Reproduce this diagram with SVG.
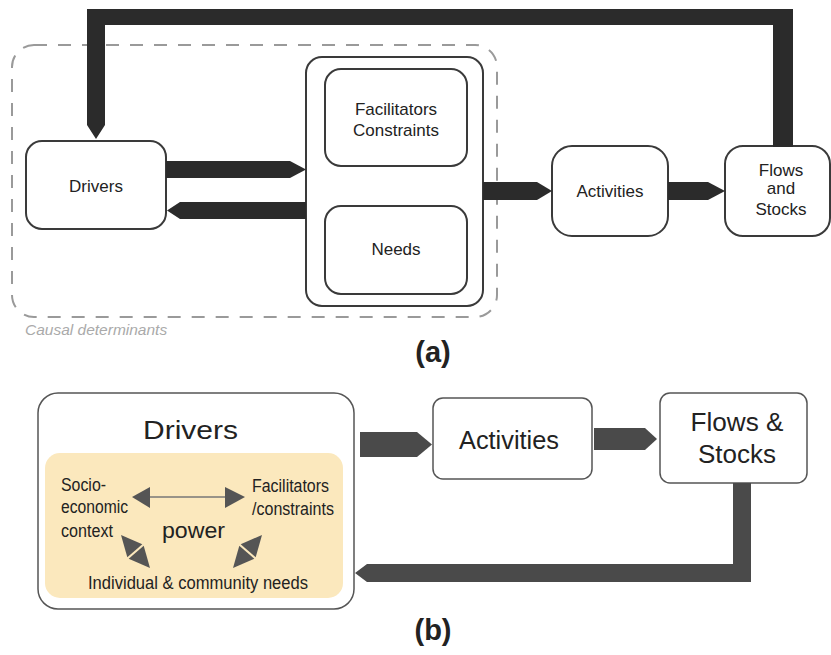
<svg xmlns="http://www.w3.org/2000/svg" width="831" height="655" viewBox="0 0 831 655">
<style>
text{font-family:"Liberation Sans",Arial,sans-serif;fill:#222}
.boxa{fill:#fff;stroke:#3a3a3a;stroke-width:2}
.boxb{fill:#fff;stroke:#555;stroke-width:1.5}
.conna{fill:#2b2b2b}
.connb{fill:#4a4a4a}
.ta{font-size:17px;text-anchor:middle}
.tb{font-size:25px;text-anchor:middle}
.ty{font-size:17.5px}
.tri{fill:#555}
</style>
<rect width="831" height="655" fill="#fff"/>
<g id="causal-determinants">
<rect x="12" y="45" width="485" height="272" rx="22" fill="none" stroke="#9a9a9a" stroke-width="2" stroke-dasharray="13 11"/>
<text x="25" y="335" font-size="15.5" font-style="italic" style="fill:#aaa">Causal determinants</text>
</g>
<g id="a-drivers"><rect class="boxa" x="26" y="141" width="140" height="88" rx="16"/><text class="ta" x="96" y="192">Drivers</text></g>
<g id="a-container"><rect class="boxa" x="306" y="57" width="177" height="249" rx="16"/></g>
<g id="a-facilitators"><rect class="boxa" x="325" y="69" width="142" height="97" rx="16"/><text class="ta" x="396" y="115">Facilitators</text><text class="ta" x="396" y="136">Constraints</text></g>
<g id="a-needs"><rect class="boxa" x="325" y="206" width="142" height="88" rx="16"/><text class="ta" x="396" y="255">Needs</text></g>
<g id="a-activities"><rect class="boxa" x="552" y="146" width="116" height="90" rx="20"/><text class="ta" x="610" y="197">Activities</text></g>
<g id="a-flows"><rect class="boxa" x="725" y="146" width="105" height="90" rx="18"/><text class="ta" x="781" y="176">Flows</text><text class="ta" x="781" y="194" font-size="14.5">and</text><text class="ta" x="781" y="215">Stocks</text></g>
<text x="433" y="362" font-size="29" font-weight="bold" text-anchor="middle">(a)</text>
<g id="b-drivers">
<rect class="boxb" x="38" y="393" width="316" height="216" rx="20"/>
<text x="143" y="439" font-size="26" textLength="95" lengthAdjust="spacingAndGlyphs">Drivers</text>
<rect x="45" y="453" width="298" height="145" rx="15" fill="#fbe8bd"/>
<text class="ty" x="61" y="491" textLength="45" lengthAdjust="spacingAndGlyphs">Socio-</text>
<text class="ty" x="61" y="513" textLength="67" lengthAdjust="spacingAndGlyphs">economic</text>
<text class="ty" x="61" y="537" textLength="52" lengthAdjust="spacingAndGlyphs">context</text>
<text class="ty" x="252" y="492" textLength="77" lengthAdjust="spacingAndGlyphs">Facilitators</text>
<text class="ty" x="252" y="515" textLength="82" lengthAdjust="spacingAndGlyphs">/constraints</text>
<text x="162" y="538" font-size="22" textLength="63" lengthAdjust="spacingAndGlyphs">power</text>
<text class="ty" x="88" y="589" textLength="220" lengthAdjust="spacingAndGlyphs">Individual  &amp; community  needs</text>
<line x1="140" y1="497" x2="230" y2="497" stroke="#777" stroke-width="1.5"/>
<polygon class="tri" points="132,497 150,487 150,508"/>
<polygon class="tri" points="245,497 225,487 225,508"/>
<polygon class="tri" points="121,535 127.3,557.3 142.3,544.2"/>
<polygon class="tri" points="150,568 128.7,558.8 143.7,545.7"/>
<polygon class="tri" points="262,535 255.7,557.3 240.7,544.2"/>
<polygon class="tri" points="233,568 254.3,558.8 239.3,545.7"/>
</g>
<g id="b-activities"><rect class="boxb" x="433" y="398" width="159" height="81" rx="10"/><text class="tb" x="509" y="449" textLength="100" lengthAdjust="spacingAndGlyphs">Activities</text></g>
<g id="b-flows"><rect class="boxb" x="660" y="393" width="147" height="90" rx="10"/><text class="tb" x="737" y="431" textLength="93" lengthAdjust="spacingAndGlyphs">Flows &amp;</text><text class="tb" x="737" y="463" textLength="78" lengthAdjust="spacingAndGlyphs">Stocks</text></g>
<text x="433" y="640" font-size="29" font-weight="bold" text-anchor="middle">(b)</text>
<g id="connectors">
<polygon class="conna" points="87,9 793,9 793,147 773,147 773,25 105,25 105,125 96,139 87,125"/>
<polygon class="conna" points="166,161 290,161 306,169.5 290,178 166,178"/>
<polygon class="conna" points="306,202 306,219 180,219 167,210.5 180,202"/>
<polygon class="conna" points="483,182 537,182 552,191 537,200 483,200"/>
<polygon class="conna" points="668,182 708,182 725,191 708,200 668,200"/>
<polygon class="connb" points="360,432 417,432 432,444.5 417,457 360,457"/>
<polygon class="connb" points="594,428 645,428 657,439 645,450 594,450"/>
<polygon class="connb" points="733,483 751,483 751,582 367,582 355,573 367,564 733,564"/>
</g>
</svg>
